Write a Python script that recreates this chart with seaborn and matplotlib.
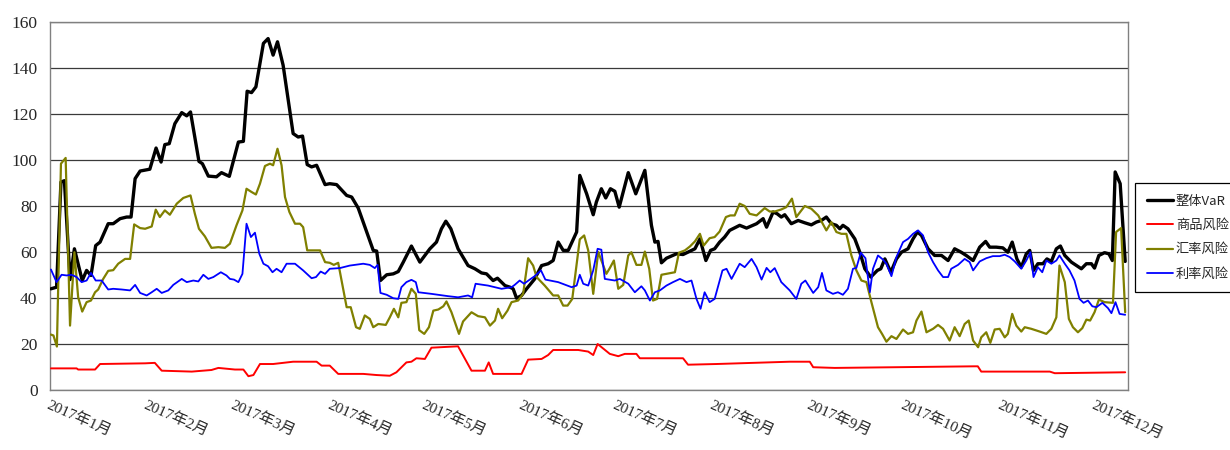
import matplotlib
matplotlib.use("Agg")
import matplotlib.pyplot as plt
import seaborn as sns
import pandas as pd

# ---- x axis categories (days since 2017-01-01) ----
month_labels = ['2017年1月', '2017年2月', '2017年3月', '2017年4月', '2017年5月', '2017年6月',
                '2017年7月', '2017年8月', '2017年9月', '2017年10月', '2017年11月', '2017年12月']
month_start_day = [0, 31, 59, 90, 120, 151, 181, 212, 243, 273, 304, 334]
y_ticks = [0, 20, 40, 60, 80, 100, 120, 140, 160]

series_names = ['整体VaR', '商品风险', '汇率风险', '利率风险']

# ---- 整体VaR ----
var_day = [0.3, 2.1, 3.5, 4.6, 6.4, 7.8, 10.3, 11.7, 13.1, 14.6, 16.0, 18.6, 20.2, 22.4, 24.5, 25.9,
           27.2, 28.8, 31.9, 33.9, 35.5, 36.7, 38.1, 39.9, 42.1, 43.7, 44.9, 47.6, 48.7, 50.6, 53.2,
           54.8, 57.3, 60.2, 61.8, 63.0, 64.4, 65.8, 68.2, 69.7, 71.3, 72.7, 74.5, 77.7, 79.3, 80.7,
           82.2, 83.6, 85.2, 87.9, 89.4, 91.6, 94.8, 96.4, 98.5, 103.3, 104.4, 105.6, 107.6, 109.7,
           111.3, 112.9, 115.5, 118.2, 119.8, 121.4, 123.5, 125.1, 126.5, 128.1, 130.4, 133.6, 135.8,
           137.9, 139.5, 141.6, 143.0, 145.4, 147.0, 148.0, 149.1, 150.7, 152.3, 154.9, 157.1, 159.2,
           160.8, 162.4, 164.0, 165.6, 168.3, 169.3, 171.5, 173.6, 174.6, 176.2, 177.6, 179.1, 180.5,
           181.9, 184.8, 187.2, 190.1, 192.2, 193.3, 194.3, 195.4, 197.0, 200.2, 202.3, 206.1, 207.7,
           209.6, 211.1, 212.4, 214.0, 215.6, 217.2, 220.4, 222.6, 225.8, 227.9, 229.0, 231.1, 232.4,
           233.7, 234.8, 236.9, 239.1, 241.2, 243.3, 244.9, 246.5, 248.1, 249.7, 251.3, 252.4, 253.4,
           255.0, 257.2, 258.8, 260.4, 262.3, 264.4, 265.5, 266.8, 268.7, 270.5, 272.1, 274.2, 275.8,
           277.2, 278.5, 280.6, 282.7, 284.9, 287.0, 289.1, 291.2, 292.8, 295.0, 297.1, 299.0, 300.3,
           302.4, 304.5, 306.1, 307.5, 309.0, 310.4, 312.0, 313.1, 314.3, 315.7, 317.3, 318.6, 320.0,
           321.6, 322.9, 324.3, 326.4, 329.6, 331.2, 332.8, 333.8, 335.2, 337.0, 338.4, 339.5, 340.4,
           342.0, 343.6]
var_val = [44, 44.7, 90.4, 91, 48, 61.4, 47.6, 52, 49.8, 62.8, 64.3, 72.3, 72.3, 74.5, 75.2, 75.2,
           91.9, 95.2, 96, 105.2, 99.1, 106.7, 107.1, 115.8, 120.6, 119.2, 120.9, 99.4, 98.4, 93, 92.7,
           94.5, 92.9, 107.8, 108.1, 129.9, 129.3, 131.8, 150.7, 152.8, 145.6, 151.4, 141.2, 111.5, 110,
           110.4, 98, 97, 97.7, 89.3, 89.7, 89.3, 84.6, 83.9, 79.1, 60.7, 60.4, 47.6, 50.1, 50.5,
           51.5, 55.6, 62.6, 55.6, 58.5, 61.4, 64.3, 70.1, 73.4, 70.1, 61.4, 54.1, 52.7,
           50.9, 50.5, 47.6, 48.6, 45.4, 44.7, 44, 39.9, 41.1, 44, 48.3, 54.1, 54.9,
           56.3, 64.3, 60.7, 60.7, 68.7, 93.3, 85.3, 76.2, 81.7, 87.5, 83.5, 87.5, 86.4,
           79.5, 94.5, 85.3, 95.5, 71.6, 64.3, 64.6, 55.3, 57.3, 59.2, 58.9, 61.4, 65.7,
           56.3, 60.7, 61.4, 64.3, 66.5, 69.4, 71.6, 70.4, 72.3, 74.5, 70.8, 77.4, 76.6,
           75.2, 76.2, 72.3, 73.7, 72.7, 71.8, 73, 73.7, 75.2, 72.3, 71.6, 70.1, 71.6,
           70.1, 65.7, 59.9, 52.7, 49.1, 52, 52.7, 57, 51.2, 57, 59.9, 61.4, 65.7,
           68.7, 67.2, 61.4, 58.5, 58.5, 56.3, 61.4, 59.9, 58.5, 56.3, 62.1, 64.6, 62.1,
           62.1, 61.8, 59.9, 64.3, 57, 53.4, 59.2, 60.7, 52, 54.9, 54.9, 57, 55.9,
           61.4, 62.6, 58.5, 55.6, 52.7, 54.9, 54.9, 53, 58.5, 59.7, 59.2, 56.3, 94.8,
           89.7, 55.9]

# ---- 商品风险 ----
com_day = [0.3, 8.5, 9.0, 14.4, 16.0, 30.4, 33.5, 35.7, 45.3, 51.6, 53.8, 59.1, 61.8, 63.4, 65.0,
           67.1, 71.3, 77.7, 85.2, 86.8, 89.4, 92.1, 100.1, 104.4, 108.6, 110.7, 113.9, 115.5,
           117.1, 119.8, 121.9, 130.4, 134.7, 139.0, 140.2, 141.6, 150.7, 152.8, 157.1, 159.2,
           160.8, 168.8, 172.0, 173.6, 175.0, 178.9, 181.6, 183.7, 187.4, 188.5, 202.3, 203.9,
           213.0, 236.4, 242.8, 243.9, 250.8, 295.5, 296.5, 297.6, 319.5, 321.1, 343.6]
com_val = [9.4, 9.4, 8.9, 8.9, 11.3, 11.6, 11.8, 8.4, 8.0, 8.7, 9.6, 8.9, 8.9, 6.0, 6.5,
           11.3, 11.3, 12.3, 12.3, 10.6, 10.6, 7.0, 7.0, 6.5, 6.2, 7.7, 12.0, 12.3,
           13.8, 13.5, 18.4, 19.0, 8.4, 8.4, 12.0, 7.0, 7.0, 13.2, 13.5, 15.2,
           17.4, 17.4, 16.7, 15.2, 20.0, 15.7, 14.7, 15.7, 15.7, 13.8, 13.8, 11.0,
           11.3, 12.3, 12.3, 9.9, 9.6, 10.3, 10.3, 8.0, 8.0, 7.3, 7.7]

# ---- 汇率风险 ----
fx_day = [0.3, 1.1, 2.2, 3.5, 5.0, 6.4, 7.8, 9.0, 10.3, 11.7, 13.1, 14.4, 15.4, 17.0, 18.6, 20.2,
          21.8, 24.0, 25.6, 26.9, 28.8, 30.4, 32.5, 33.8, 35.1, 36.7, 38.3, 40.5, 42.6, 44.9, 46.3,
          47.6, 49.5, 51.6, 53.8, 55.9, 57.5, 59.6, 61.5, 62.8, 64.4, 65.8, 67.1, 68.7, 70.3, 71.3,
          72.7, 74.0, 75.1, 76.5, 78.3, 79.9, 80.9, 82.2, 86.3, 87.9, 89.4, 90.7, 92.1, 93.7, 94.8,
          96.1, 97.8, 99.0, 100.6, 102.2, 103.3, 104.9, 107.3, 108.6, 109.9, 111.3, 112.3, 113.9,
          115.5, 116.9, 118.0, 119.6, 121.1, 122.5, 124.1, 125.7, 126.7, 128.3, 130.7, 132.0,
          134.7, 136.8, 139.0, 140.6, 142.2, 143.2, 144.5, 146.2, 147.5, 149.6, 151.2, 152.8,
          154.4, 155.5, 158.1, 160.8, 162.4, 164.0, 165.4, 166.9, 169.3, 170.7, 172.0, 173.6,
          175.2, 177.8, 178.9, 180.2, 181.6, 183.2, 184.8, 185.8, 187.4, 189.0, 190.1, 191.5,
          192.7, 194.0, 195.4, 197.0, 199.7, 201.0, 202.9, 204.5, 206.1, 207.7, 208.9, 210.8,
          212.4, 214.0, 216.0, 217.4, 218.8, 220.4, 222.0, 223.6, 225.8, 228.4, 230.0, 231.6,
          233.7, 235.3, 237.1, 238.5, 241.2, 243.3, 245.5, 248.1, 249.7, 251.3, 252.9, 254.5,
          256.1, 257.7, 259.3, 260.9, 262.5, 264.6, 265.9, 267.3, 268.9, 270.5, 272.6, 274.2,
          275.8, 276.9, 278.5, 280.1, 282.2, 283.8, 285.4, 287.5, 289.1, 290.7, 292.3, 293.6,
          295.0, 296.6, 297.6, 299.2, 300.5, 301.9, 303.5, 305.1, 306.1, 307.5, 308.8, 310.4,
          311.5, 313.6, 316.3, 318.4, 320.0, 321.6, 322.6, 324.3, 325.6, 326.9, 328.5, 329.9,
          331.2, 332.4, 333.8, 335.2, 337.0, 339.7, 340.7, 342.3, 343.6]
fx_val = [24.1, 23.7, 18.9, 98.4, 100.9, 28, 59.9, 40.3, 34.1, 38.2, 38.9, 42.5, 43.7, 48.3, 51.8, 52.1,
          54.9, 57, 57, 72, 70.4, 70.1, 71.1, 78.4, 75.2, 78.1, 76.2, 81, 83.5, 84.6, 76.6,
          70.1, 66.8, 61.8, 62.1, 61.8, 63.6, 71.6, 78.1, 87.5, 86.1, 85, 89.7, 97.4, 98.4, 97.7,
          104.9, 97.7, 83.9, 77.4, 72.3, 72.3, 70.8, 60.7, 60.7, 55.6, 55.3, 54.4, 55.3, 44, 36,
          36, 27.3, 26.6, 32.4, 30.9, 27.3, 28.7, 28.3, 31.6, 35.3, 31.6, 37.9, 38.2,
          44, 41.8, 26, 24.4, 27.3, 34.5, 35, 36.4, 38.5, 33.8, 24.4, 29.8,
          33.8, 32.1, 31.6, 28, 30.2, 35.3, 31.2, 34.5, 38.2, 38.9, 41.8, 57.3,
          54.1, 49.1, 45.4, 41.1, 41.1, 36.7, 36.7, 39.6, 65.5, 67.2, 60.7, 41.8,
          60, 50.5, 53, 56.3, 44, 45.7, 58.5, 59.9, 54.4, 54.4, 60.2, 52.7,
          38.9, 39.6, 50.1, 50.5, 51.2, 59.7, 60.7, 62.4, 64.6, 67.9, 62.8, 66,
          66.5, 68.9, 75.2, 75.9, 75.9, 81, 80, 76.6, 75.9, 79.1, 77.6, 77.6,
          78.5, 79.5, 83.2, 75.2, 80, 78.8, 75.9, 69.4, 73, 68.7, 67.9, 67.9,
          58.5, 52, 47.6, 46.9, 38.2, 27.3, 24.4, 21, 23.4, 22.2, 26.3, 24.4,
          25.1, 30.2, 34.1, 25.1, 26.6, 28.3, 26.6, 21.5, 27.3, 23.4, 28.7, 30.2,
          21.5, 18.6, 22.9, 25.1, 20.5, 26.3, 26.6, 22.9, 24.4, 33.1, 28, 25.4,
          27.3, 26.6, 25.4, 24.4, 26.6, 31.6, 54.1, 46.9, 30.9, 27.3, 25.1, 26.9,
          30.6, 30.2, 33.8, 39.3, 38.2, 37.9, 68.7, 70.4, 33.8]

# ---- 利率风险 ----
ir_day = [0.3, 2.1, 3.7, 5.3, 6.9, 8.5, 10.1, 11.7, 13.1, 14.6, 16.5, 18.6, 20.2, 22.9, 25.6, 27.2,
          28.8, 30.9, 32.5, 34.1, 35.7, 37.8, 39.4, 42.1, 43.7, 45.8, 47.4, 49.0, 50.6, 52.2, 54.6,
          56.4, 57.5, 58.8, 60.2, 61.5, 62.8, 64.2, 65.5, 66.9, 68.2, 69.7, 71.1, 72.4, 74.0, 75.6,
          78.3, 80.9, 83.6, 85.0, 86.5, 87.9, 89.4, 92.6, 95.8, 100.1, 102.2, 103.8, 104.7, 105.6,
          107.6, 109.7, 111.3, 112.3, 113.9, 115.5, 116.9, 117.7, 121.9, 127.2, 130.4, 133.6, 134.9,
          136.0, 140.0, 144.3, 147.5, 148.5, 150.1, 151.5, 153.3, 154.9, 156.9, 158.3, 162.4, 166.7,
          168.3, 169.3, 170.4, 172.0, 173.6, 175.0, 176.2, 177.3, 180.5, 182.1, 184.8, 186.9, 189.0,
          190.1, 191.7, 193.3, 194.9, 197.0, 199.1, 201.3, 203.4, 205.0, 206.6, 207.9, 209.2, 210.8,
          212.4, 214.9, 216.2, 217.8, 220.4, 222.0, 224.2, 225.8, 227.4, 229.0, 230.2, 231.6, 233.7,
          236.4, 238.5, 240.1, 241.4, 243.9, 245.5, 246.7, 248.1, 250.2, 251.8, 253.4, 255.0, 256.6,
          257.7, 259.1, 260.6, 262.0, 263.0, 264.6, 266.2, 267.3, 268.9, 270.5, 272.6, 274.2, 275.8,
          277.4, 279.0, 280.6, 282.2, 283.8, 285.4, 287.0, 288.0, 290.2, 292.3, 293.9, 295.0, 297.1,
          299.2, 301.3, 303.5, 305.1, 306.7, 308.3, 310.4, 312.0, 313.3, 314.3, 315.7, 317.1, 318.4,
          320.0, 321.6, 322.6, 324.3, 325.8, 327.4, 329.0, 330.3, 331.7, 333.1, 334.4, 336.3, 338.1,
          339.2, 340.5, 341.8, 343.6]
ir_val = [52.4, 46.9, 50.1, 49.8, 50.1, 49.1, 46.9, 47.6, 50.9, 47.6, 47.6, 43.7, 44, 43.7, 43.3, 45.7,
          42.2, 41.1, 42.5, 44, 42.2, 43.3, 45.7, 48.3, 46.9, 47.6, 47.2, 50.1, 48.3, 49.1, 51.2,
          49.8, 48.3, 48, 46.9, 50.5, 72.3, 66.5, 68.4, 59.2, 54.9, 53.8, 51.2, 52.7, 51.2, 54.9,
          54.9, 52, 48.6, 49.1, 51.5, 50.5, 52.7, 53, 54.1, 54.9, 54.4, 53, 54.4, 42.2,
          41.4, 39.9, 39.6, 44.7, 46.9, 47.9, 46.9, 42.5, 41.8, 40.8, 40.3, 41.1, 40.3,
          46.2, 45.4, 44, 44.7, 45.7, 47.6, 46.2, 48, 49.5, 52, 48, 46.9, 44.7,
          45.4, 50.1, 46.2, 45.4, 52, 61.4, 61, 48.3, 47.6, 48.3, 46.2, 42.5, 45.1,
          43.3, 38.9, 42.5, 43.3, 45.4, 46.9, 48.3, 46.9, 47.6, 39.6, 35.3, 42.5, 38.2,
          39.6, 52, 52.7, 48.3, 54.9, 53.4, 57, 53.4, 48, 53.1, 51.2, 53, 46.9,
          43.3, 39.6, 46.2, 47.6, 42.2, 44.7, 50.9, 43.3, 41.8, 42.5, 41.4, 44, 52.7,
          53.1, 59.7, 57.3, 42.5, 52.7, 58.5, 56.7, 54.9, 49.5, 57.8, 64.3, 65.7, 67.9,
          69.4, 67.2, 59.9, 55.6, 52, 49.1, 49.1, 52.7, 54.4, 57, 55.6, 52, 55.9,
          57.3, 58.2, 58.2, 58.8, 57.8, 55.9, 52.7, 56.3, 59.9, 49.1, 53.4, 51.2, 56.3,
          54.9, 56.3, 58.5, 54.9, 52, 47.6, 39.6, 37.9, 38.9, 36.4, 36, 37.9, 35.6,
          33.4, 38.2, 33.1, 32.7]

series_days = [var_day, com_day, fx_day, ir_day]
series_vals = [var_val, com_val, fx_val, ir_val]
colors = ['#000000', '#ff0000', '#808000', '#0000ff']
widths = [2.4, 1.4, 1.6, 1.3]

frames = []
for name, d, v in zip(series_names, series_days, series_vals):
    frames.append(pd.DataFrame({'day': d, 'value': v, 'series': name}))
df = pd.concat(frames, ignore_index=True)

sns.set_theme(style='white')
plt.rcParams['font.family'] = ['Liberation Serif', 'Noto Sans CJK SC', 'DejaVu Sans']

fig = plt.figure(figsize=(12.3, 4.5), dpi=100)
ax = fig.add_axes([50 / 1230, 1 - 390 / 450, 1078 / 1230, 368 / 450])

for i, name in enumerate(series_names):
    sub = df[df['series'] == name]
    sns.lineplot(data=sub, x='day', y='value', ax=ax, color=colors[i], linewidth=widths[i],
                 sort=False, estimator=None, label=name, zorder=3 + i)

ax.set_xlim(0, 344.5)
ax.set_ylim(0, 160)
ax.set_yticks(y_ticks)
ax.set_yticklabels([str(t) for t in y_ticks], fontsize=12.5)
ax.set_xticks(month_start_day)
ax.set_xticklabels(month_labels, fontsize=11, rotation=-24, ha='left', va='top',
                   rotation_mode='anchor')
ax.tick_params(axis='x', length=0, pad=6)
ax.tick_params(axis='y', length=0, pad=9)
ax.set_xlabel('')
ax.set_ylabel('')
ax.yaxis.grid(True, color='#3a3a3a', linewidth=0.9)
ax.set_axisbelow(True)
for s in ax.spines.values():
    s.set_color('#808080')
    s.set_linewidth(1.0)

leg = ax.legend(loc='upper left', bbox_to_anchor=(1135 / 1230, 1 - 183 / 450),
                bbox_transform=fig.transFigure, frameon=True, fancybox=False,
                edgecolor='#000000', framealpha=1, fontsize=9.5, handlelength=2.0,
                handletextpad=0.2, labelspacing=0.85, borderpad=0.9, borderaxespad=0)
leg.get_frame().set_linewidth(0.9)
for t in leg.get_texts():
    t.set_family(['Noto Sans CJK SC', 'DejaVu Sans'])

fig.savefig('out.png', dpi=100)
